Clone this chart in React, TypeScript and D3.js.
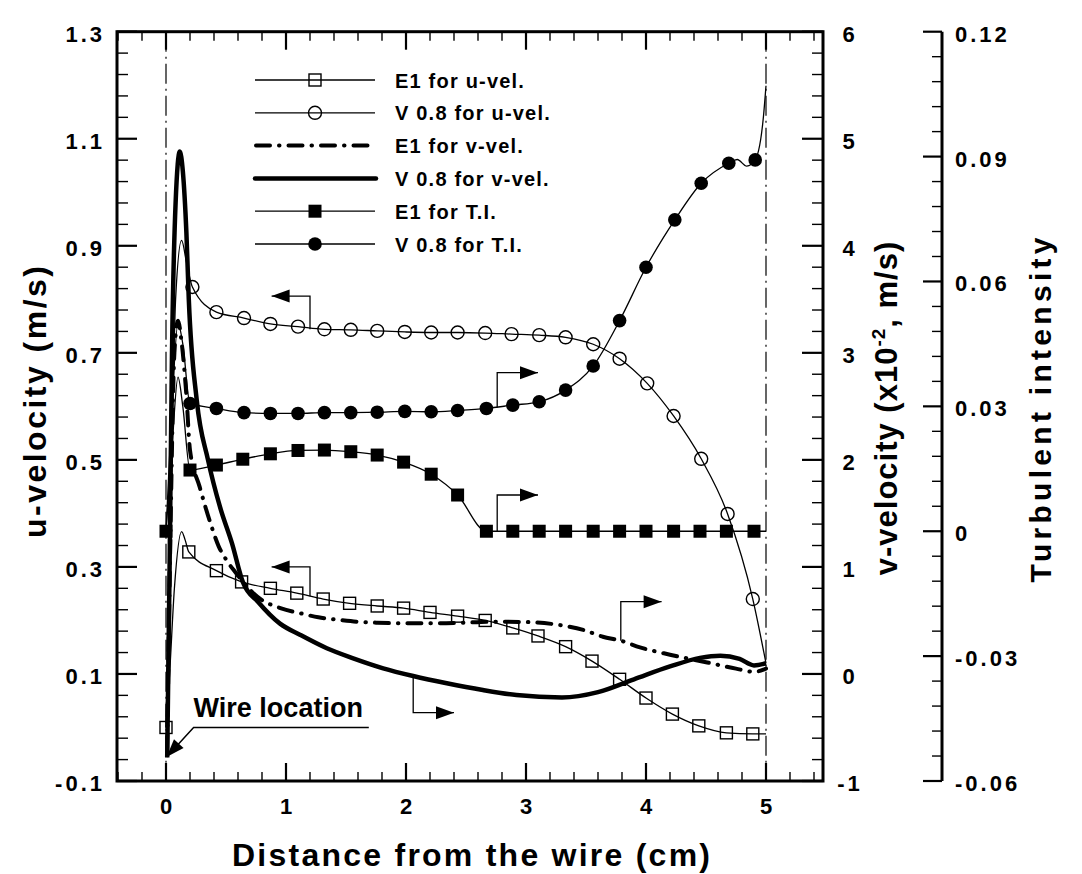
import * as d3 from 'd3';

const FONT = '"Liberation Sans", Arial, Helvetica, sans-serif';

// tick values / labels
const xTicks = [0, 1, 2, 3, 4, 5];
const uTicks = [-0.1, 0.1, 0.3, 0.5, 0.7, 0.9, 1.1, 1.3];
const vTicks = [-1, 0, 1, 2, 3, 4, 5, 6];
const tiTicks = [-0.06, -0.03, 0, 0.03, 0.06, 0.09, 0.12];
const tiTickLabels = ['-0.06', '-0.03', '0', '0.03', '0.06', '0.09', '0.12'];

// E1 for u-vel. (open squares, left axis)
const e1uMarkX = [0, 0.19, 0.42, 0.63, 0.87, 1.09, 1.31, 1.53, 1.76, 1.98, 2.2, 2.43, 2.66, 2.89, 3.1, 3.33, 3.55, 3.78, 4.0, 4.22, 4.44, 4.67, 4.89];
const e1uMarkY = [0.0, 0.328, 0.293, 0.272, 0.26, 0.251, 0.24, 0.232, 0.227, 0.223, 0.215, 0.208, 0.2, 0.186, 0.171, 0.151, 0.124, 0.09, 0.055, 0.025, 0.003, -0.01, -0.012];
const e1uLineX = [0.03, 0.07, 0.13, 0.16, 5.0];
const e1uLineY = [0.1, 0.26, 0.366, 0.35, -0.012];

// V 0.8 for u-vel. (open circles, left axis)
const v08uMarkX = [0.22, 0.42, 0.65, 0.87, 1.1, 1.32, 1.54, 1.76, 1.99, 2.21, 2.43, 2.66, 2.88, 3.11, 3.33, 3.56, 3.78, 4.01, 4.23, 4.46, 4.68, 4.89];
const v08uMarkY = [0.823, 0.776, 0.765, 0.754, 0.749, 0.744, 0.743, 0.741, 0.739, 0.738, 0.738, 0.737, 0.735, 0.733, 0.729, 0.716, 0.689, 0.643, 0.582, 0.502, 0.399, 0.24];
const v08uLineX = [0, 0.04, 0.08, 0.13, 0.17, 5.0];
const v08uLineY = [0.0, 0.4, 0.8, 0.91, 0.87, 0.12];

// E1 for v-vel. (dash-dot, v axis)
const e1vX = [0.01, 0.04, 0.07, 0.1, 0.13, 0.17, 0.2, 0.28, 0.37, 0.44, 0.5, 0.575, 0.76, 0.96, 1.12, 1.27, 1.45, 1.59, 1.76, 2.0, 2.24, 2.5, 2.75, 3.0, 3.28, 3.48, 3.64, 3.79, 3.95, 4.2, 4.5, 4.75, 4.9, 5.0];
const e1vY = [-0.7, 1.5, 3.0, 3.3, 3.1, 2.6, 2.09, 1.75, 1.41, 1.19, 1.07, 0.955, 0.722, 0.613, 0.567, 0.529, 0.504, 0.488, 0.479, 0.473, 0.473, 0.48, 0.488, 0.485, 0.457, 0.411, 0.348, 0.311, 0.249, 0.18, 0.11, 0.05, 0.02, 0.05];

// V 0.8 for v-vel. (thick solid, v axis)
const v08vX = [0.01, 0.03, 0.05, 0.08, 0.115, 0.14, 0.17, 0.19, 0.256, 0.35, 0.45, 0.55, 0.64, 0.77, 0.95, 1.12, 1.34, 1.56, 1.81, 2.06, 2.34, 2.64, 2.92, 3.3, 3.6, 3.9, 4.2, 4.45, 4.62, 4.78, 4.9, 5.0];
const v08vY = [-0.78, 1.0, 3.0, 4.4, 4.88, 4.7, 4.12, 3.5, 2.56, 2.0, 1.56, 1.22, 0.86, 0.67, 0.47, 0.364, 0.24, 0.146, 0.053, -0.019, -0.087, -0.15, -0.197, -0.22, -0.17, -0.05, 0.07, 0.15, 0.17, 0.14, 0.08, 0.1];

// E1 for T.I. (filled squares, turbulent intensity axis)
const e1tMarkX = [0, 0.2, 0.42, 0.64, 0.87, 1.1, 1.32, 1.54, 1.76, 1.98, 2.21, 2.43, 2.67, 2.89, 3.11, 3.33, 3.56, 3.78, 4.0, 4.23, 4.45, 4.67, 4.9];
const e1tMarkY = [0, 0.0147, 0.0159, 0.0173, 0.0186, 0.0194, 0.0195, 0.0191, 0.0183, 0.0166, 0.0137, 0.0087, 0, 0, 0, 0, 0, 0, 0, 0, 0, 0, 0];
const e1tLineX = [0.05, 0.1, 0.14, 5.0];
const e1tLineY = [0.02, 0.037, 0.03, 0];

// V 0.8 for T.I. (filled circles, turbulent intensity axis)
const v08tMarkX = [0.2, 0.42, 0.65, 0.87, 1.1, 1.32, 1.54, 1.76, 1.99, 2.21, 2.43, 2.67, 2.89, 3.11, 3.33, 3.56, 3.78, 4.0, 4.24, 4.46, 4.69, 4.91];
const v08tMarkY = [0.0307, 0.0295, 0.0285, 0.0283, 0.0283, 0.0285, 0.0285, 0.0286, 0.0288, 0.0287, 0.029, 0.0295, 0.0303, 0.0311, 0.0339, 0.0397, 0.0506, 0.0634, 0.0748, 0.0836, 0.0884, 0.0892];
const v08tLineX = [0, 0.05, 0.1, 0.14, 4.76, 4.84, 4.98, 5.0];
const v08tLineY = [0, 0.03, 0.05, 0.045, 0.0893, 0.0877, 0.1, 0.107];

type Pt = [number, number];
const zip = (xs: number[], ys: number[]): Pt[] => xs.map((v, i) => [v, ys[i]]);
const merge = (a: Pt[], b: Pt[]): Pt[] => [...a, ...b].sort((p, q) => p[0] - q[0]);

// frame
const W = 1082;
const H = 874;
const left = 117;
const right = 823;
const top = 31.7;
const bottom = 781;
const tiAxisX = 942;

const x = d3.scaleLinear().domain([0, 5]).range([166, 766]);
const yU = d3.scaleLinear().domain([-0.1, 1.3]).range([bottom, top]);
const yV = d3.scaleLinear().domain([-1, 6]).range([bottom, top]);
const yT = d3.scaleLinear().domain([-0.06, 0.12]).range([bottom, top]);

const lineFor = (y: d3.ScaleLinear<number, number>) =>
  d3.line<Pt>().x((d) => x(d[0])).y((d) => y(d[1])).curve(d3.curveMonotoneX);

// call-out arrows, in data units of their own axis
const arrowNotes = [
  { axis: 'u', x: 1.2, y0: 0.744, y1: 0.806, tip: 0.88 },
  { axis: 'u', x: 1.2, y0: 0.245, y1: 0.3, tip: 0.88 },
  { axis: 't', x: 2.76, y0: 0.0297, y1: 0.0381, tip: 3.1 },
  { axis: 't', x: 2.76, y0: 0, y1: 0.0087, tip: 3.1 },
  { axis: 'v', x: 3.79, y0: 0.311, y1: 0.675, tip: 4.13 },
  { axis: 'v', x: 2.06, y0: -0.019, y1: -0.362, tip: 2.4 },
];

function head(tx: number, ty: number, fx: number, fy: number, len = 18, hw = 6.5) {
  const dx = tx - fx;
  const dy = ty - fy;
  const d = Math.hypot(dx, dy);
  const ux = dx / d;
  const uy = dy / d;
  const bx = tx - ux * len;
  const by = ty - uy * len;
  return `M${tx},${ty}L${bx - uy * hw},${by + ux * hw}L${bx + uy * hw},${by - ux * hw}Z`;
}

const isMajor = (v: number, start: number, step: number) => {
  const k = (v - start) / step;
  return Math.abs(k - Math.round(k)) < 1e-6;
};

function OpenSquare({ cx, cy }: { cx: number; cy: number }) {
  return <rect x={cx - 6} y={cy - 6} width={12} height={12} fill="none" stroke="#000" strokeWidth={1.4} />;
}
function OpenCircle({ cx, cy }: { cx: number; cy: number }) {
  return <circle cx={cx} cy={cy} r={6.5} fill="none" stroke="#000" strokeWidth={1.4} />;
}
function FillSquare({ cx, cy }: { cx: number; cy: number }) {
  return <rect x={cx - 6.5} y={cy - 6.5} width={13} height={13} fill="#000" />;
}
function FillCircle({ cx, cy }: { cx: number; cy: number }) {
  return <circle cx={cx} cy={cy} r={6.8} fill="#000" />;
}

export default function App() {
  const e1u = merge(zip(e1uMarkX, e1uMarkY), zip(e1uLineX, e1uLineY));
  const v08u = merge(zip(v08uMarkX, v08uMarkY), zip(v08uLineX, v08uLineY));
  const e1t = merge(zip(e1tMarkX, e1tMarkY), zip(e1tLineX, e1tLineY));
  const v08t = merge(zip(v08tMarkX, v08tMarkY), zip(v08tLineX, v08tLineY));
  const e1v = zip(e1vX, e1vY);
  const v08v = zip(v08vX, v08vY);

  const lineU = lineFor(yU);
  const lineV = lineFor(yV);
  const lineT = lineFor(yT);

  const xMinor = d3.range(-0.4, 5.41, 0.2).filter((v) => !isMajor(v, 0, 1));
  const uMinor = d3.range(-0.1, 1.301, 0.04).filter((v) => !isMajor(v, -0.1, 0.2));
  const vMinor = d3.range(-1, 6.01, 0.2).filter((v) => !isMajor(v, -1, 1));
  const tMinor = d3.range(-0.06, 0.1201, 0.006).filter((v) => !isMajor(v, -0.06, 0.03));

  const tick = { fontFamily: FONT, fontWeight: 700, fontSize: 22, letterSpacing: 3 } as const;
  const title = { fontFamily: FONT, fontWeight: 700, fontSize: 32 } as const;

  const legendRows = [
    { label: 'E1 for u-vel.', kind: 'osq' },
    { label: 'V 0.8 for u-vel.', kind: 'oci' },
    { label: 'E1 for v-vel.', kind: 'dashdot' },
    { label: 'V 0.8 for v-vel.', kind: 'thick' },
    { label: 'E1 for T.I.', kind: 'fsq' },
    { label: 'V 0.8 for T.I.', kind: 'fci' },
  ];

  const wireTip: Pt = [x(0.005), yU(-0.055)];
  const wireStart: Pt = [x(0.23), yU(0.0)];

  return (
    <svg width={W} height={H} style={{ position: 'absolute', left: 0, top: 0, background: '#fff' }}>
      {/* wire reference lines at 0 and 5 cm */}
      {[0, 5].map((v) => (
        <line key={v} x1={x(v)} x2={x(v)} y1={top} y2={bottom} stroke="#000" strokeWidth={1.2} strokeDasharray="20,5,2,5" />
      ))}

      {/* thin series */}
      <path d={lineU(e1u) ?? ''} fill="none" stroke="#000" strokeWidth={1.3} />
      <path d={lineU(v08u) ?? ''} fill="none" stroke="#000" strokeWidth={1.3} />
      <path d={lineT(e1t) ?? ''} fill="none" stroke="#000" strokeWidth={1.3} />
      <path d={lineT(v08t) ?? ''} fill="none" stroke="#000" strokeWidth={1.3} />

      {zip(e1uMarkX, e1uMarkY).map((d, i) => <OpenSquare key={`a${i}`} cx={x(d[0])} cy={yU(d[1])} />)}
      {zip(v08uMarkX, v08uMarkY).map((d, i) => <OpenCircle key={`b${i}`} cx={x(d[0])} cy={yU(d[1])} />)}
      {zip(e1tMarkX, e1tMarkY).map((d, i) => <FillSquare key={`c${i}`} cx={x(d[0])} cy={yT(d[1])} />)}
      {zip(v08tMarkX, v08tMarkY).map((d, i) => <FillCircle key={`d${i}`} cx={x(d[0])} cy={yT(d[1])} />)}

      {/* v-velocity series */}
      <path d={lineV(e1v) ?? ''} fill="none" stroke="#000" strokeWidth={4} strokeDasharray="14,9,0.5,9" strokeLinecap="round" />
      <path d={lineV(v08v) ?? ''} fill="none" stroke="#000" strokeWidth={4.5} strokeLinejoin="round" />

      {/* call-out arrows */}
      {arrowNotes.map((a, i) => {
        const y = a.axis === 'u' ? yU : a.axis === 'v' ? yV : yT;
        const cx = x(a.x);
        const y0 = y(a.y0);
        const y1 = y(a.y1);
        const tx = x(a.tip);
        return (
          <g key={`n${i}`}>
            <path d={`M${cx},${y0}L${cx},${y1}L${tx},${y1}`} fill="none" stroke="#000" strokeWidth={1.3} />
            <path d={head(tx, y1, cx, y1)} fill="#000" />
          </g>
        );
      })}

      {/* wire location */}
      <text x={x(0.23)} y={yU(0.02)} style={{ ...title, fontSize: 27 }}>Wire location</text>
      <path d={`M${x(1.69)},${wireStart[1]}L${wireStart[0]},${wireStart[1]}L${wireTip[0]},${wireTip[1]}`} fill="none" stroke="#000" strokeWidth={1.5} />
      <path d={head(wireTip[0], wireTip[1], wireStart[0], wireStart[1], 18, 6.5)} fill="#000" />

      {/* frame */}
      <rect x={left} y={top} width={right - left} height={bottom - top} fill="none" stroke="#000" strokeWidth={3} />
      <line x1={tiAxisX} x2={tiAxisX} y1={top} y2={bottom} stroke="#000" strokeWidth={3} />

      {/* x ticks bottom + top */}
      {xTicks.map((v) => (
        <g key={`xt${v}`}>
          <line x1={x(v)} x2={x(v)} y1={bottom} y2={bottom - 18} stroke="#000" strokeWidth={2.2} />
          <line x1={x(v)} x2={x(v)} y1={top} y2={top + 18} stroke="#000" strokeWidth={2.2} />
          <text x={x(v) + 1.5} y={814} textAnchor="middle" style={tick}>{v}</text>
        </g>
      ))}
      {xMinor.map((v) => (
        <g key={`xm${v}`}>
          <line x1={x(v)} x2={x(v)} y1={bottom} y2={bottom - 9} stroke="#000" strokeWidth={1.4} />
          <line x1={x(v)} x2={x(v)} y1={top} y2={top + 9} stroke="#000" strokeWidth={1.4} />
        </g>
      ))}

      {/* u axis */}
      {uTicks.map((v) => (
        <g key={`ut${v}`}>
          <line x1={left} x2={left + 20} y1={yU(v)} y2={yU(v)} stroke="#000" strokeWidth={2.2} />
          <text x={105} y={yU(v) + 10} textAnchor="end" style={tick}>{v.toFixed(1)}</text>
        </g>
      ))}
      {uMinor.map((v) => (
        <line key={`um${v}`} x1={left} x2={left + 11} y1={yU(v)} y2={yU(v)} stroke="#000" strokeWidth={1.4} />
      ))}

      {/* v axis */}
      {vTicks.map((v) => (
        <g key={`vt${v}`}>
          <line x1={right} x2={right - 21} y1={yV(v)} y2={yV(v)} stroke="#000" strokeWidth={2.2} />
          <text x={850} y={yV(v) + 10} textAnchor="middle" style={tick}>{v}</text>
        </g>
      ))}
      {vMinor.map((v) => (
        <line key={`vm${v}`} x1={right} x2={right - 11} y1={yV(v)} y2={yV(v)} stroke="#000" strokeWidth={1.4} />
      ))}

      {/* turbulent intensity axis */}
      {tiTicks.map((v, i) => (
        <g key={`tt${v}`}>
          <line x1={tiAxisX} x2={tiAxisX - 19} y1={yT(v)} y2={yT(v)} stroke="#000" strokeWidth={2.2} />
          <text x={955} y={yT(v) + 10} style={tick}>{tiTickLabels[i]}</text>
        </g>
      ))}
      {tMinor.map((v) => (
        <line key={`tm${v}`} x1={tiAxisX} x2={tiAxisX - 10} y1={yT(v)} y2={yT(v)} stroke="#000" strokeWidth={1.4} />
      ))}

      {/* axis titles */}
      <text x={471} y={866} textAnchor="middle" textLength={478} lengthAdjust="spacing" style={title}>
        Distance from the wire (cm)
      </text>
      <text transform="translate(46,402) rotate(-90)" textAnchor="middle" textLength={272} lengthAdjust="spacing" style={title}>
        u-velocity (m/s)
      </text>
      <text transform="translate(897,408) rotate(-90)" textAnchor="middle" style={{ ...title, fontSize: 31, letterSpacing: 1 }}>
        v-velocity (x10<tspan dy={-12} fontSize={19}>-2</tspan><tspan dy={12}>, m/s)</tspan>
      </text>
      <text transform="translate(1051,410) rotate(-90)" textAnchor="middle" textLength={345} lengthAdjust="spacing" style={{ ...title, fontSize: 30 }}>
        Turbulent intensity
      </text>

      {/* legend */}
      {legendRows.map((r, i) => {
        const ly = 80 + i * 32.8;
        return (
          <g key={r.label}>
            {r.kind === 'dashdot' ? (
              <line x1={256} x2={376} y1={ly} y2={ly} stroke="#000" strokeWidth={4} strokeDasharray="14,9,0.5,9" strokeLinecap="round" />
            ) : r.kind === 'thick' ? (
              <line x1={255} x2={376} y1={ly} y2={ly} stroke="#000" strokeWidth={4.5} strokeLinecap="round" />
            ) : (
              <line x1={255} x2={375} y1={ly} y2={ly} stroke="#000" strokeWidth={1.3} />
            )}
            {r.kind === 'osq' && <OpenSquare cx={315} cy={ly} />}
            {r.kind === 'oci' && <OpenCircle cx={315} cy={ly} />}
            {r.kind === 'fsq' && <FillSquare cx={315} cy={ly} />}
            {r.kind === 'fci' && <FillCircle cx={315} cy={ly} />}
            <text x={395} y={ly + 7.5} style={{ fontFamily: FONT, fontWeight: 700, fontSize: 20, letterSpacing: 1.2 }}>{r.label}</text>
          </g>
        );
      })}
    </svg>
  );
}
